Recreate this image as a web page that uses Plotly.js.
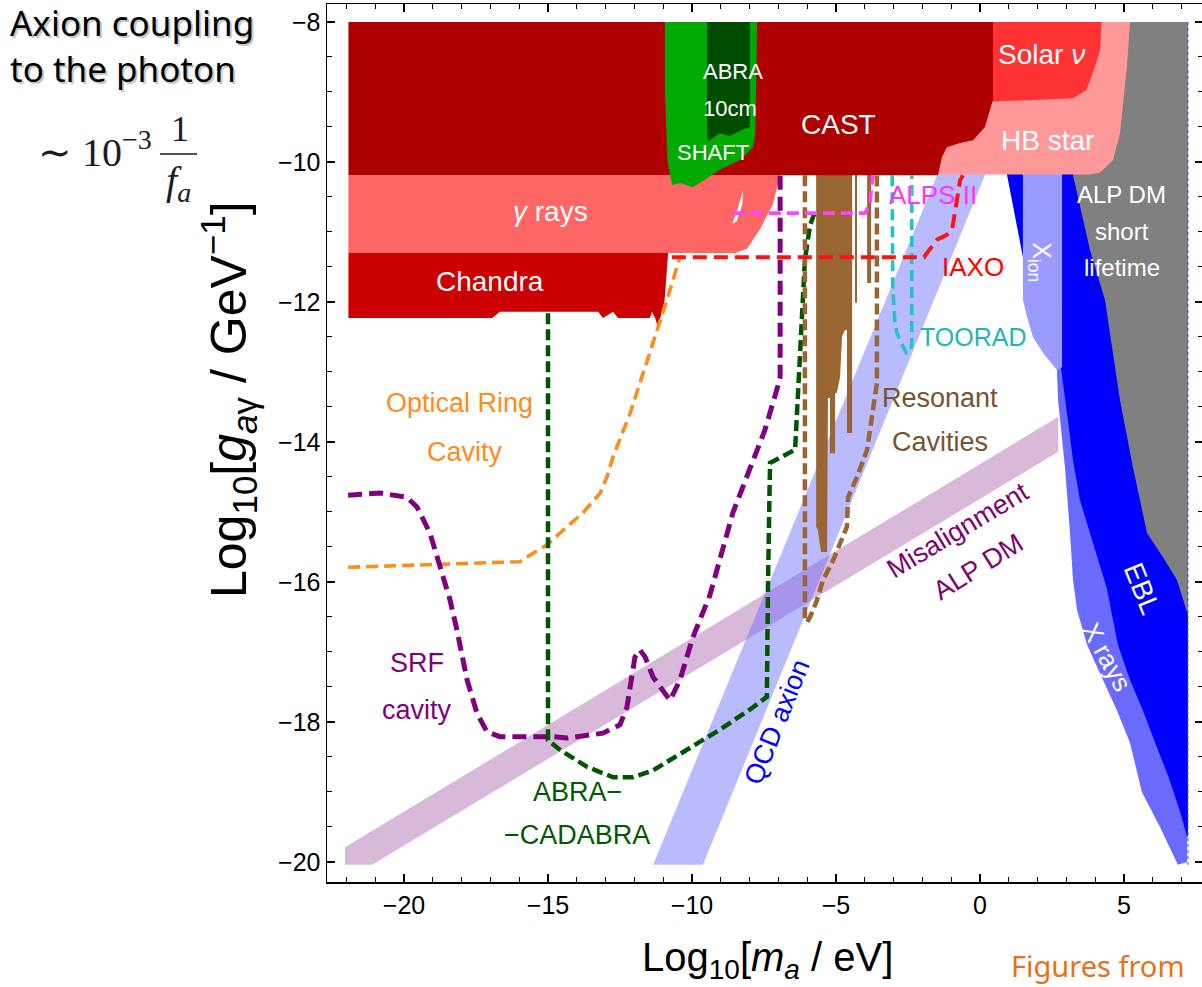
<!DOCTYPE html>
<html><head><meta charset="utf-8">
<script src="https://cdn.plot.ly/plotly-3.0.1.min.js"></script>
<style>html,body{margin:0;padding:0;overflow:hidden;background:#fff}#plot{width:1204px;height:987px}</style>
</head><body><div id="plot"></div>
<script>
// ---------- data (log10 m_a [eV], log10 g [GeV^-1]) ----------
const MISALIGN_X = [-22.05, 2.72, 2.72, -21.11, -22.05];
const MISALIGN_Y = [-19.79, -13.64, -14.14, -20.04, -20.04];
const QCD_X = [-11.35, -9.62, 0.26, -1.40];
const QCD_Y = [-20.04, -20.04, -10.1, -10.1];
const EBL_X = [0.9, 7.22, 7.22, 7.19, 6.5, 5.6, 4.8, 4.0, 3.4, 3.15, 2.95, 2.74, 2.3, 1.9, 1.49, 0.9];
const EBL_Y = [-10.1, -10.1, -19.64, -19.64, -19.3, -18.6, -17.7, -16.8, -16.0, -15.0, -14.0, -13.0, -12.6, -12.2, -11.36, -10.1];
const GRAY_X = [5.0, 7.22, 7.22, 6.84, 6.42, 5.8, 5.31, 4.86, 4.34, 3.82, 3.23, 3.4];
const GRAY_Y = [-8, -8, -16.47, -15.97, -15.69, -15.3, -14.36, -13.4, -11.97, -11.26, -10.19, -9.0];
const XRAY_X = [2.8, 3.23, 3.47, 4.17, 4.41, 4.58, 4.79, 5.21, 5.66, 6.11, 6.56, 6.94, 7.19, 7.19, 6.87, 6.25, 5.62, 5.21, 4.76, 4.24, 3.72, 3.37, 3.23, 3.125, 2.95, 2.71, 2.67];
const XRAY_Y = [-12.9, -14.26, -14.83, -15.78, -16.1, -16.46, -16.9, -17.4, -17.84, -18.33, -18.8, -19.27, -19.64, -20.0, -20.04, -19.5, -19.0, -18.3, -17.84, -17.37, -16.9, -16.4, -15.97, -15.3, -14.36, -13.4, -12.97];
const XION_X = [1.49, 2.85, 2.85, 2.67, 2.19, 1.84, 1.63, 1.49];
const XION_Y = [-10.1, -10.1, -12.93, -12.97, -12.73, -12.5, -12.21, -11.97];
const BROWN_X = [-5.69, -3.78, -3.78, -3.92, -3.92, -4.27, -4.27, -4.34, -4.34, -4.44, -4.44, -4.62, -4.62, -4.69, -4.79, -4.86, -4.97, -5.03, -5.03, -5.21, -5.21, -5.28, -5.31, -5.52, -5.63, -5.69];
const BROWN_Y = [-10.1, -10.1, -11.73, -11.73, -10.1, -10.1, -12.01, -12.01, -10.1, -10.1, -13.87, -13.87, -12.4, -12.4, -12.5, -13.07, -13.3, -13.3, -14.16, -14.16, -13.37, -13.37, -15.57, -15.57, -15.26, -15.21];
const GAMMA_X = [-21.93, -6.94, -7.19, -7.64, -8.09, -8.5, -21.93];
const GAMMA_Y = [-10.19, -10.19, -10.6, -10.96, -11.24, -11.3, -11.3];
const GAP_X = [-8.23, -8.4, -8.6, -8.45, -8.25];
const GAP_Y = [-10.4, -10.65, -10.88, -10.85, -10.6];
const CHANDRA_X = [-21.93, -10.83, -10.95, -11.18, -11.28, -11.39, -11.46, -12.57, -12.74, -13.09, -13.26, -16.67, -16.94, -21.93];
const CHANDRA_Y = [-11.3, -11.3, -11.97, -12.36, -12.23, -12.14, -12.23, -12.23, -12.14, -12.23, -12.14, -12.14, -12.23, -12.23];
const HB_X = [-1.5, 5.21, 5.1, 4.86, 4.62, 4.17, 3.8, -1.5];
const HB_Y = [-8, -8, -8.64, -9.59, -9.97, -10.15, -10.18, -10.18];
const SOLAR_X = [0.3, 4.22, 4.17, 3.99, 3.7, 3.23, 0.3];
const SOLAR_Y = [-8, -8, -8.4, -8.64, -8.97, -9.09, -9.14];
const CAST_X = [-21.93, 0.45, 0.45, 0.28, 0.17, -0.24, -0.69, -1.15, -1.32, -1.46, -21.93];
const CAST_Y = [-8, -8, -9.11, -9.36, -9.5, -9.69, -9.73, -9.79, -9.93, -10.19, -10.19];
const SHAFT_X = [-10.94, -7.74, -7.8, -7.88, -8.33, -9.03, -9.97, -10.4, -10.69, -10.85, -10.94];
const SHAFT_Y = [-8, -8, -9.6, -9.79, -9.97, -10.11, -10.36, -10.3, -10.33, -10.0, -9.0];
const ABRA10_X = [-9.48, -7.99, -7.99, -8.33, -8.68, -9.03, -9.44, -9.48];
const ABRA10_Y = [-8, -8, -9.5, -9.55, -9.63, -9.59, -9.7, -9.6];
// projected sensitivities (dashed)
const SRF_X = [-21.94, -20.83, -19.9, -19.55, -19.1, -18.65, -18.4, -18.16, -17.81, -17.47, -17.12, -16.67, -14.83, -14.34, -13.09, -12.5, -12.26, -11.98, -11.81, -11.63, -11.35, -10.76, -10.42, -9.97, -9.38, -8.58, -7.99, -7.47, -7.01, -6.94, -6.94];
const SRF_Y = [-14.76, -14.73, -14.79, -14.93, -15.3, -15.93, -16.26, -16.69, -17.4, -17.87, -18.14, -18.21, -18.21, -18.23, -18.16, -18.04, -17.79, -17.07, -16.97, -17.07, -17.36, -17.69, -17.4, -16.79, -16.19, -15.01, -14.4, -13.83, -13.19, -13.07, -10.19];
const ORC_X = [-21.94, -15.97, -15.52, -15.03, -14.58, -13.78, -13.19, -12.95, -12.74, -12.5, -12.15, -11.81, -11.35, -10.87, -10.42];
const ORC_Y = [-15.79, -15.71, -15.59, -15.47, -15.3, -15.01, -14.73, -14.5, -14.21, -13.97, -13.59, -13.16, -12.59, -11.97, -11.36];
const ABRACAD_X = [-15.0, -15.0, -14.58, -13.65, -12.74, -12.05, -11.35, -10.17, -9.03, -7.88, -7.4, -7.36, -7.29, -6.42, -6.32, -6.18, -6.08, -5.9, -5.73];
const ABRACAD_Y = [-12.16, -18.26, -18.4, -18.64, -18.79, -18.79, -18.69, -18.4, -18.11, -17.79, -17.64, -15.97, -14.3, -14.11, -13.3, -12.36, -11.4, -10.9, -10.71];
const RES_X = [-6.08, -6.08, -6.0, -5.9, -5.66, -5.45, -5.1, -4.62, -4.58, -4.27, -3.92, -3.75, -3.58, -3.58];
const RES_Y = [-10.19, -16.55, -16.57, -16.5, -16.26, -15.97, -15.69, -15.21, -14.79, -14.5, -14.11, -13.64, -13.16, -10.19];
const TOORAD_X = [-3.05, -3.03, -2.95, -2.89, -2.67, -2.55, -2.42, -2.37, -2.37];
const TOORAD_Y = [-10.19, -11.8, -12.3, -12.44, -12.64, -12.73, -12.71, -12.6, -10.19];
const IAXO_X = [-10.7, -1.94, -1.84, -1.49, -1.15, -0.97, -0.8, -0.69, -0.59];
const IAXO_Y = [-11.36, -11.36, -11.3, -11.11, -11.04, -10.97, -10.54, -10.26, -10.19];
const ALPS_X = [-8.58, -3.99, -3.82, -3.72];
const ALPS_Y = [-10.73, -10.73, -10.59, -10.19];
const EDGE_X = [7.22, 7.22];
const EDGE_Y = [-8, -20.04];
const X_TICKS = [-20, -15, -10, -5, 0, 5];
const Y_TICKS = [-20, -18, -16, -14, -12, -10, -8];

// ---------- traces ----------
function area(x, y, color) {
  return {x: x, y: y, type: 'scatter', mode: 'lines', fill: 'toself', fillcolor: color,
          line: {width: 0, color: color}, hoverinfo: 'skip', showlegend: false};
}
function dashed(x, y, color, w, dash) {
  return {x: x, y: y, type: 'scatter', mode: 'lines',
          line: {color: color, width: w, dash: dash}, hoverinfo: 'skip', showlegend: false};
}
const traces = [
  area(MISALIGN_X, MISALIGN_Y, 'rgba(160,80,160,0.40)'),
  area(QCD_X, QCD_Y, 'rgba(110,110,255,0.48)'),
  area(EBL_X, EBL_Y, '#0000ff'),
  area(GRAY_X, GRAY_Y, '#808080'),
  area(XRAY_X, XRAY_Y, '#6a6aff'),
  area(XION_X, XION_Y, '#9a9aff'),
  area(BROWN_X, BROWN_Y, '#996633'),
  area(GAMMA_X, GAMMA_Y, '#ff6666'),
  area(GAP_X, GAP_Y, '#ffffff'),
  area(CHANDRA_X, CHANDRA_Y, '#cc0000'),
  area(HB_X, HB_Y, '#ff9999'),
  area(SOLAR_X, SOLAR_Y, '#ff3333'),
  area(CAST_X, CAST_Y, '#ae0000'),
  area(SHAFT_X, SHAFT_Y, '#00aa00'),
  area(ABRA10_X, ABRA10_Y, '#004c00'),
  dashed(EDGE_X, EDGE_Y, '#3344ff', 1, 'dot'),
  dashed(ORC_X, ORC_Y, '#ff8c1a', 3.6, '12px,6px'),
  dashed(SRF_X, SRF_Y, '#800080', 5, '14px,7px'),
  dashed(ABRACAD_X, ABRACAD_Y, '#005500', 4.5, '11px,5px'),
  dashed(RES_X, RES_Y, '#996633', 4.5, '11px,5px'),
  dashed(TOORAD_X, TOORAD_Y, '#22c4c4', 3.6, '11px,6px'),
  dashed(IAXO_X, IAXO_Y, '#ff1111', 4, '14px,7px'),
  dashed(ALPS_X, ALPS_Y, '#ff44ff', 3.6, '12px,6px')
];

// ---------- labels ----------
const SANS = 'Liberation Sans, Arial, sans-serif';
function lab(text, x, y, color, size, angle) {
  return {x: x, y: y, xref: 'x', yref: 'y', text: text, showarrow: false,
          font: {family: SANS, size: size, color: color}, textangle: angle || 0,
          xanchor: 'center', yanchor: 'middle'};
}
const L = 327, R = 1203, T = 4, B = 882;
function px(p) { return (p - L) / (R - L); }
function py(p) { return (B - p) / (B - T); }
function pap(text, x, y, font, opts) {
  return Object.assign({x: px(x), y: py(y), xref: 'paper', yref: 'paper', text: text, showarrow: false,
          font: font, xanchor: 'center', yanchor: 'middle'}, opts || {});
}
const NOTE = 'Noto Sans, sans-serif';
const SERIF = 'Liberation Serif, serif';
const annotations = [
  lab('CAST', -4.9, -9.47, '#fff', 28),
  lab('Solar <i>ν</i>', 2.15, -8.47, '#fff', 28),
  lab('HB star', 2.36, -9.69, '#fff', 28),
  lab('ABRA', -8.58, -8.71, '#fff', 22),
  lab('10cm', -8.68, -9.23, '#fff', 22),
  lab('SHAFT', -9.27, -9.87, '#fff', 22),
  lab('<i>γ</i> rays', -14.93, -10.71, '#fff', 28),
  lab('Chandra', -17.01, -11.71, '#fff', 28),
  lab('ALPS II', -1.63, -10.47, '#ff33ff', 26),
  lab('IAXO', -0.24, -11.5, '#ff0000', 26),
  lab('TOORAD', -0.24, -12.5, '#1fb5b5', 25),
  lab('ALP DM', 4.93, -10.47, '#fff', 24),
  lab('short', 4.93, -11.0, '#fff', 24),
  lab('lifetime', 4.93, -11.51, '#fff', 24),
  lab('X<sub>ion</sub>', 2.08, -11.43, '#fff', 25, 90),
  lab('Optical Ring', -18.06, -13.44, '#ff8c1a', 27),
  lab('Cavity', -17.88, -14.14, '#ff8c1a', 27),
  lab('Resonant', -1.39, -13.37, '#7a5230', 27),
  lab('Cavities', -1.39, -14.0, '#7a5230', 27),
  lab('Misalignment', -0.76, -15.26, '#800070', 27, -31),
  lab('ALP DM', -0.07, -15.78, '#800070', 27, -32),
  lab('EBL', 5.63, -16.09, '#fff', 28, 68),
  lab('X rays', 4.41, -17.07, '#fff', 26, 61),
  lab('QCD axion', -7.05, -18.0, '#0000ff', 27, -68),
  lab('SRF', -19.55, -17.16, '#800080', 27),
  lab('cavity', -19.55, -17.83, '#800080', 27),
  lab('ABRA−', -13.99, -19.0, '#005a00', 27),
  lab('−CADABRA', -13.99, -19.61, '#005a00', 27),
  // axis titles
  pap('Log<sub>10</sub>[<i>m<sub>a</sub></i> / eV]', 767, 960, {family: SANS, size: 40, color: '#000'}),
  pap('Log<sub>10</sub>[<i>g</i><sub><i>a</i>γ</sub> / GeV<sup>−1</sup>]', 228, 400, {family: SANS, size: 50, color: '#000'}, {textangle: -90}),
  pap('Figures from', 1098, 966, {family: NOTE, size: 29, color: '#e8701a'}),
  // top-left note (with soft shadow)
  pap('Axion coupling<br>to the photon', 10, 48, {family: NOTE, size: 35, color: '#c8c8c8'}, {xanchor: 'left', align: 'left'}),
  pap('Axion coupling<br>to the photon', 8, 46, {family: NOTE, size: 35, color: '#000'}, {xanchor: 'left', align: 'left'}),
  pap('∼ 10<sup>−3</sup>', 36, 150, {family: SERIF, size: 40, color: '#1a1a2a'}, {xanchor: 'left'}),
  pap('1', 180, 129, {family: SERIF, size: 36, color: '#1a1a2a'}),
  pap('<i>f<sub>a</sub></i>', 178, 183, {family: SERIF, size: 40, color: '#1a1a2a'})
];
const shapes = [
  {type: 'line', xref: 'paper', yref: 'paper', x0: px(160), x1: px(197), y0: py(154), y1: py(154),
   line: {color: '#1a1a2a', width: 1.6}}
];

const axisCommon = {
  showgrid: false, zeroline: false, showline: true, linecolor: '#000', linewidth: 1.5,
  mirror: 'allticks', ticks: 'inside', ticklen: 8, tickwidth: 1.3, tickcolor: '#000',
  tickfont: {family: SANS, size: 25, color: '#000'}
};
const layout = {
  width: 1204, height: 987,
  margin: {l: L, r: 1204 - R, t: T, b: 987 - B, pad: 0},
  paper_bgcolor: '#fff', plot_bgcolor: '#fff', showlegend: false,
  xaxis: Object.assign({}, axisCommon, {range: [-22.674, 7.743], tickvals: X_TICKS,
          minor: {dtick: 1, tick0: 0, ticks: 'inside', ticklen: 5, tickcolor: '#000', tickwidth: 1}}),
  yaxis: Object.assign({}, axisCommon, {range: [-20.286, -7.743], tickvals: Y_TICKS,
          minor: {dtick: 0.5, tick0: 0, ticks: 'inside', ticklen: 5, tickcolor: '#000', tickwidth: 1}}),
  annotations: annotations, shapes: shapes
};
Plotly.newPlot('plot', traces, layout, {staticPlot: true, displayModeBar: false});
</script></body></html>
